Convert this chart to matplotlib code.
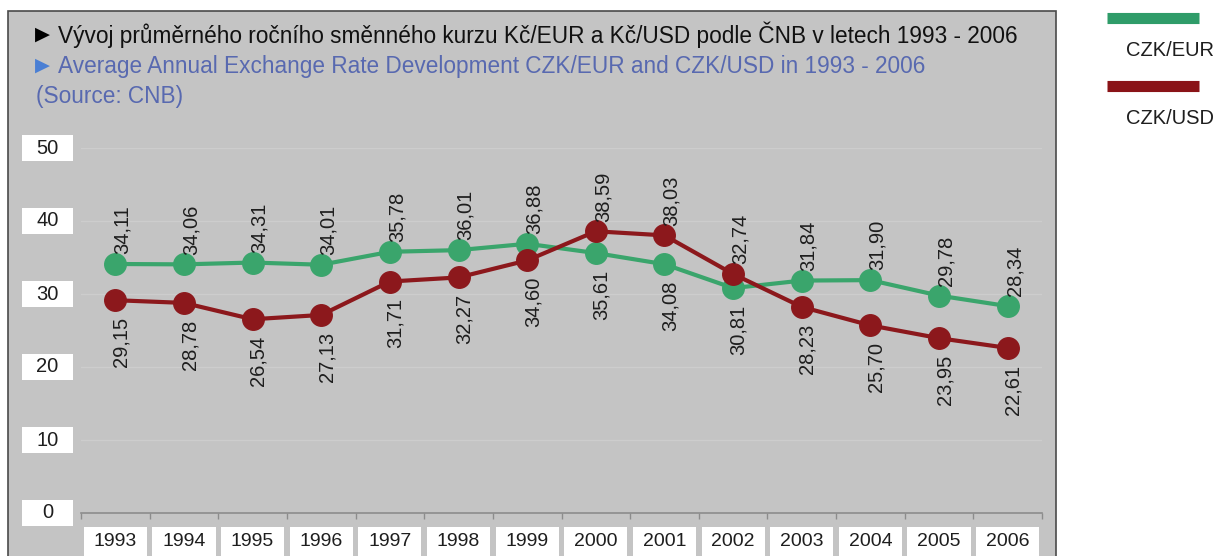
import matplotlib.pyplot as plt
import numpy as np
from matplotlib.patches import Rectangle
from matplotlib.lines import Line2D

plt.rcParams['font.family'] = ['Liberation Sans', 'DejaVu Sans']

years = ['1993', '1994', '1995', '1996', '1997', '1998', '1999',
         '2000', '2001', '2002', '2003', '2004', '2005', '2006']
czk_eur = [34.11, 34.06, 34.31, 34.01, 35.78, 36.01, 36.88,
           35.61, 34.08, 30.81, 31.84, 31.90, 29.78, 28.34]
czk_usd = [29.15, 28.78, 26.54, 27.13, 31.71, 32.27, 34.60,
           38.59, 38.03, 32.74, 28.23, 25.70, 23.95, 22.61]
y_ticks = [0, 10, 20, 30, 40, 50]

GREEN = '#3aa56c'
RED = '#8c181c'
PANEL = '#c4c4c4'
BLUE = '#5869b0'

W, H = 1217, 556
fig = plt.figure(figsize=(W / 100, H / 100), dpi=100)

# grey panel behind the chart
fig.add_artist(Rectangle((8 / W, -0.05), (1056 - 8) / W, 1.05 - 11 / H,
                         transform=fig.transFigure, facecolor=PANEL,
                         edgecolor='#4a4a4a', lw=1.2, zorder=0))

ax = fig.add_axes([81 / W, (H - 513) / H, 961 / W, 365 / H])
ax.set_facecolor('none')
x = np.arange(len(years))
ax.set_xlim(-0.5, len(years) - 0.5)
ax.set_ylim(0, 50)

for v in y_ticks[1:]:
    ax.axhline(v, color='#cdcdcd', lw=1, zorder=1)

for s in ['top', 'right', 'left']:
    ax.spines[s].set_visible(False)
ax.spines['bottom'].set_color('#8c8c8c')
ax.spines['bottom'].set_linewidth(1.2)
ax.set_yticks([])
ax.set_xticks(np.arange(-0.5, len(years), 1))
ax.set_xticklabels([])
ax.tick_params(axis='x', direction='out', length=4, color='#8c8c8c', width=1)

ax.plot(x, czk_eur, color=GREEN, lw=3, marker='o', ms=15.5, zorder=3)
ax.plot(x, czk_usd, color=RED, lw=3, marker='o', ms=15.5, zorder=4)

# value labels: the higher series above the marker, the lower one below
for i in range(len(years)):
    for vals in (czk_eur, czk_usd):
        other = czk_usd if vals is czk_eur else czk_eur
        txt = f'{vals[i]:.2f}'.replace('.', ',')
        if vals[i] >= other[i]:
            ax.annotate(txt, (x[i], vals[i]), xytext=(5, 7),
                        textcoords='offset points', rotation=90,
                        ha='center', va='bottom', fontsize=14.5,
                        color='#1e1e1e', zorder=5)
        else:
            ax.annotate(txt, (x[i], vals[i]), xytext=(4, -12),
                        textcoords='offset points', rotation=90,
                        ha='center', va='top', fontsize=14.5,
                        color='#1e1e1e', zorder=5)

# white boxes holding the tick labels
ytr = ax.get_yaxis_transform()
for v in y_ticks:
    ax.add_patch(Rectangle((-0.0614, v - 1.78), 0.053, 3.56, transform=ytr,
                           facecolor='white', edgecolor='none', clip_on=False))
    ax.text(-0.035, v, str(v), transform=ytr, ha='center', va='center',
            fontsize=14.5, color='#1e1e1e')

xtr = ax.get_xaxis_transform()
for i, yr in enumerate(years):
    ax.add_patch(Rectangle((i - 0.46, -0.15), 0.92, 0.112, transform=xtr,
                           facecolor='white', edgecolor='none', clip_on=False))
    ax.text(i, -0.079, yr, transform=xtr, ha='center', va='center',
            fontsize=14, color='#1e1e1e')

# heading
fig.text(35 / W, 1 - 34 / H, '▶', color='black', fontsize=14,
         va='center', family='DejaVu Sans')
fig.text(58 / W, 1 - 35 / H,
         'Vývoj průměrného ročního směnného kurzu Kč/EUR a Kč/USD podle ČNB v letech 1993 - 2006',
         color='#111111', fontsize=16.3, va='center')
fig.text(35 / W, 1 - 65 / H, '▶', color='#4a7fd4', fontsize=14,
         va='center', family='DejaVu Sans')
fig.text(58 / W, 1 - 66 / H,
         'Average Annual Exchange Rate Development CZK/EUR and CZK/USD in 1993 - 2006',
         color=BLUE, fontsize=16.3, va='center')
fig.text(36 / W, 1 - 97 / H, '(Source: CNB)', color=BLUE, fontsize=16.3,
         va='center')

# legend on the right
for yy, col, lab, ty in [(17.5, '#2f9c69', 'CZK/EUR', 50),
                         (85.5, '#8a1317', 'CZK/USD', 118)]:
    fig.add_artist(Line2D([1107 / W, 1199 / W], [1 - yy / H] * 2,
                          color=col, lw=8, solid_capstyle='butt'))
    fig.text(1126 / W, 1 - ty / H, lab, fontsize=14.5, color='#1e1e1e',
             va='center')

fig.savefig('out.png', dpi=100)
